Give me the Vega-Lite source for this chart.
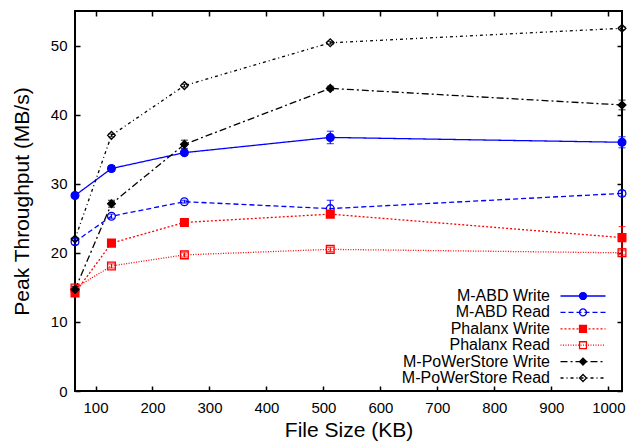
{
  "$schema": "https://vega.github.io/schema/vega-lite/v6.json",
  "width": 547,
  "height": 380,
  "autosize": "none",
  "padding": {"left": 75, "top": 11, "right": 6, "bottom": 52},
  "background": "white",
  "config": {
    "font": "Liberation Sans",
    "view": {"stroke": "black", "strokeWidth": 2},
    "axis": {
      "domain": false,
      "grid": false,
      "tickColor": "black",
      "tickWidth": 1.5,
      "tickSize": -5,
      "labelColor": "black",
      "labelFont": "Liberation Sans",
      "labelFontSize": 15,
      "titleFont": "Liberation Sans",
      "titleFontSize": 21,
      "titleFontWeight": "normal",
      "titleColor": "black"
    }
  },
  "data": {"values": [
    {"series": "M-ABD Write", "size": 64, "tp": 28.3, "lo": 28.0, "hi": 28.6},
    {"series": "M-ABD Write", "size": 128, "tp": 32.2, "lo": 31.8, "hi": 32.6},
    {"series": "M-ABD Write", "size": 256, "tp": 34.5, "lo": 34.2, "hi": 34.8},
    {"series": "M-ABD Write", "size": 512, "tp": 36.7, "lo": 35.8, "hi": 37.6},
    {"series": "M-ABD Write", "size": 1024, "tp": 36.0, "lo": 35.2, "hi": 36.8},
    {"series": "M-ABD Read", "size": 64, "tp": 21.6, "lo": 21.2, "hi": 22.0},
    {"series": "M-ABD Read", "size": 128, "tp": 25.3, "lo": 25.0, "hi": 25.6},
    {"series": "M-ABD Read", "size": 256, "tp": 27.4, "lo": 27.2, "hi": 27.6},
    {"series": "M-ABD Read", "size": 512, "tp": 26.4, "lo": 25.2, "hi": 27.6},
    {"series": "M-ABD Read", "size": 1024, "tp": 28.6, "lo": 28.2, "hi": 29.0},
    {"series": "Phalanx Write", "size": 64, "tp": 14.2, "lo": 13.8, "hi": 14.6},
    {"series": "Phalanx Write", "size": 128, "tp": 21.4, "lo": 21.1, "hi": 21.7},
    {"series": "Phalanx Write", "size": 256, "tp": 24.4, "lo": 24.1, "hi": 24.7},
    {"series": "Phalanx Write", "size": 512, "tp": 25.6, "lo": 25.3, "hi": 25.9},
    {"series": "Phalanx Write", "size": 1024, "tp": 22.2, "lo": 20.6, "hi": 23.8},
    {"series": "Phalanx Read", "size": 64, "tp": 14.9, "lo": 14.6, "hi": 15.2},
    {"series": "Phalanx Read", "size": 128, "tp": 18.1, "lo": 17.8, "hi": 18.4},
    {"series": "Phalanx Read", "size": 256, "tp": 19.7, "lo": 19.4, "hi": 20.0},
    {"series": "Phalanx Read", "size": 512, "tp": 20.5, "lo": 20.2, "hi": 20.8},
    {"series": "Phalanx Read", "size": 1024, "tp": 20.0, "lo": 19.7, "hi": 20.3},
    {"series": "M-PoWerStore Write", "size": 64, "tp": 14.7, "lo": 14.3, "hi": 15.1},
    {"series": "M-PoWerStore Write", "size": 128, "tp": 27.1, "lo": 26.6, "hi": 27.6},
    {"series": "M-PoWerStore Write", "size": 256, "tp": 35.7, "lo": 35.1, "hi": 36.3},
    {"series": "M-PoWerStore Write", "size": 512, "tp": 43.8, "lo": 43.5, "hi": 44.1},
    {"series": "M-PoWerStore Write", "size": 1024, "tp": 41.4, "lo": 40.7, "hi": 42.1},
    {"series": "M-PoWerStore Read", "size": 64, "tp": 22.0, "lo": 21.8, "hi": 22.2},
    {"series": "M-PoWerStore Read", "size": 128, "tp": 37.0, "lo": 36.8, "hi": 37.2},
    {"series": "M-PoWerStore Read", "size": 256, "tp": 44.2, "lo": 44.0, "hi": 44.4},
    {"series": "M-PoWerStore Read", "size": 512, "tp": 50.4, "lo": 50.2, "hi": 50.6},
    {"series": "M-PoWerStore Read", "size": 1024, "tp": 52.5, "lo": 52.3, "hi": 52.7}
  ]},
  "layer": [
    {
      "layer": [
        {
          "mark": {"type": "line", "strokeWidth": 1.3},
          "encoding": {
            "x": {"field": "size", "type": "quantitative", "scale": {"domain": [64, 1024], "nice": false, "zero": false}, "axis": {"values": [100, 200, 300, 400, 500, 600, 700, 800, 900, 1000], "format": "d", "labelPadding": 14, "titlePadding": 4}, "title": "File Size (KB)"},
            "y": {"field": "tp", "type": "quantitative", "scale": {"domain": [0, 55], "nice": false}, "axis": {"values": [0, 10, 20, 30, 40, 50], "labelPadding": 13, "titlePadding": 18}, "title": "Peak Throughput (MB/s)"},
            "color": {"field": "series", "type": "nominal",
              "scale": {"domain": ["M-ABD Write", "M-ABD Read", "Phalanx Write", "Phalanx Read", "M-PoWerStore Write", "M-PoWerStore Read"],
                        "range": ["#0000ff", "#0000ff", "#ff0000", "#ff0000", "#000000", "#000000"]},
              "legend": {"orient": "none", "legendX": 500, "legendY": 277, "title": null, "symbolType": "M-5,0H5", "symbolSize": 81, "symbolStrokeWidth": 1.3, "labelAlign": "right", "labelOffset": -41, "labelFontSize": 16, "labelFont": "Liberation Sans", "labelColor": "black", "labelLimit": 300, "rowPadding": 0.4, "padding": 0}},
            "strokeDash": {"field": "series", "type": "nominal",
              "scale": {"domain": ["M-ABD Write", "M-ABD Read", "Phalanx Write", "Phalanx Read", "M-PoWerStore Write", "M-PoWerStore Read"],
                        "range": [[1, 0], [5, 3], [2, 2], [1, 1.5], [7, 3, 2, 3], [3, 3, 1, 3]]},
              "legend": {"orient": "none", "legendX": 500, "legendY": 277, "title": null, "symbolType": "M-5,0H5", "symbolSize": 81, "symbolStrokeWidth": 1.3, "labelAlign": "right", "labelOffset": -41, "labelFontSize": 16, "labelFont": "Liberation Sans", "labelColor": "black", "labelLimit": 300, "rowPadding": 0.4, "padding": 0}}
          }
        },
        {
          "mark": {"type": "errorbar", "ticks": {"size": 7}, "thickness": 1.2},
          "encoding": {
            "x": {"field": "size", "type": "quantitative", "title": "File Size (KB)"},
            "y": {"field": "lo", "type": "quantitative", "title": "Peak Throughput (MB/s)"},
            "y2": {"field": "hi"},
            "color": {"field": "series", "type": "nominal", "legend": null}
          }
        },
        {
          "mark": {"type": "point", "filled": true, "strokeWidth": 1.3, "opacity": 1, "size": 60},
          "encoding": {
            "x": {"field": "size", "type": "quantitative", "title": "File Size (KB)"},
            "y": {"field": "tp", "type": "quantitative", "title": "Peak Throughput (MB/s)"},
            "shape": {"field": "series", "type": "nominal",
              "scale": {"domain": ["M-ABD Write", "M-ABD Read", "Phalanx Write", "Phalanx Read", "M-PoWerStore Write", "M-PoWerStore Read", " "],
                        "range": ["circle", "circle", "square", "square", "diamond", "diamond", "circle"]},
              "legend": {"orient": "none", "legendX": 500, "legendY": 277, "title": null, "symbolSize": 48, "symbolStrokeWidth": 1.3, "labelExpr": "' '", "labelOpacity": 0, "labelFontSize": 16, "labelFont": "Liberation Sans", "rowPadding": 0.4, "padding": 0}},
            "fill": {"field": "series", "type": "nominal",
              "scale": {"domain": ["M-ABD Write", "M-ABD Read", "Phalanx Write", "Phalanx Read", "M-PoWerStore Write", "M-PoWerStore Read", " "],
                        "range": ["#0000ff", "transparent", "#ff0000", "transparent", "#000000", "transparent", "transparent"]},
              "legend": {"orient": "none", "legendX": 500, "legendY": 277, "title": null, "symbolSize": 48, "symbolStrokeWidth": 1.3, "labelExpr": "' '", "labelOpacity": 0, "labelFontSize": 16, "labelFont": "Liberation Sans", "rowPadding": 0.4, "padding": 0}},
            "stroke": {"field": "series", "type": "nominal",
              "scale": {"domain": ["M-ABD Write", "M-ABD Read", "Phalanx Write", "Phalanx Read", "M-PoWerStore Write", "M-PoWerStore Read", " "],
                        "range": ["#0000ff", "#0000ff", "#ff0000", "#ff0000", "#000000", "#000000", "transparent"]},
              "legend": {"orient": "none", "legendX": 500, "legendY": 277, "title": null, "symbolSize": 48, "symbolStrokeWidth": 1.3, "labelExpr": "' '", "labelOpacity": 0, "labelFontSize": 16, "labelFont": "Liberation Sans", "rowPadding": 0.4, "padding": 0}}
          }
        }
      ]
    },
    {
      "mark": {"type": "point", "opacity": 0},
      "encoding": {
        "x": {"field": "size", "type": "quantitative", "axis": {"orient": "top", "labels": false, "title": null, "values": [100, 200, 300, 400, 500, 600, 700, 800, 900, 1000]}},
        "y": {"field": "tp", "type": "quantitative", "axis": {"orient": "right", "labels": false, "title": null, "values": [0, 10, 20, 30, 40, 50]}}
      }
    }
  ],
  "resolve": {"axis": {"x": "independent", "y": "independent"}}
}
